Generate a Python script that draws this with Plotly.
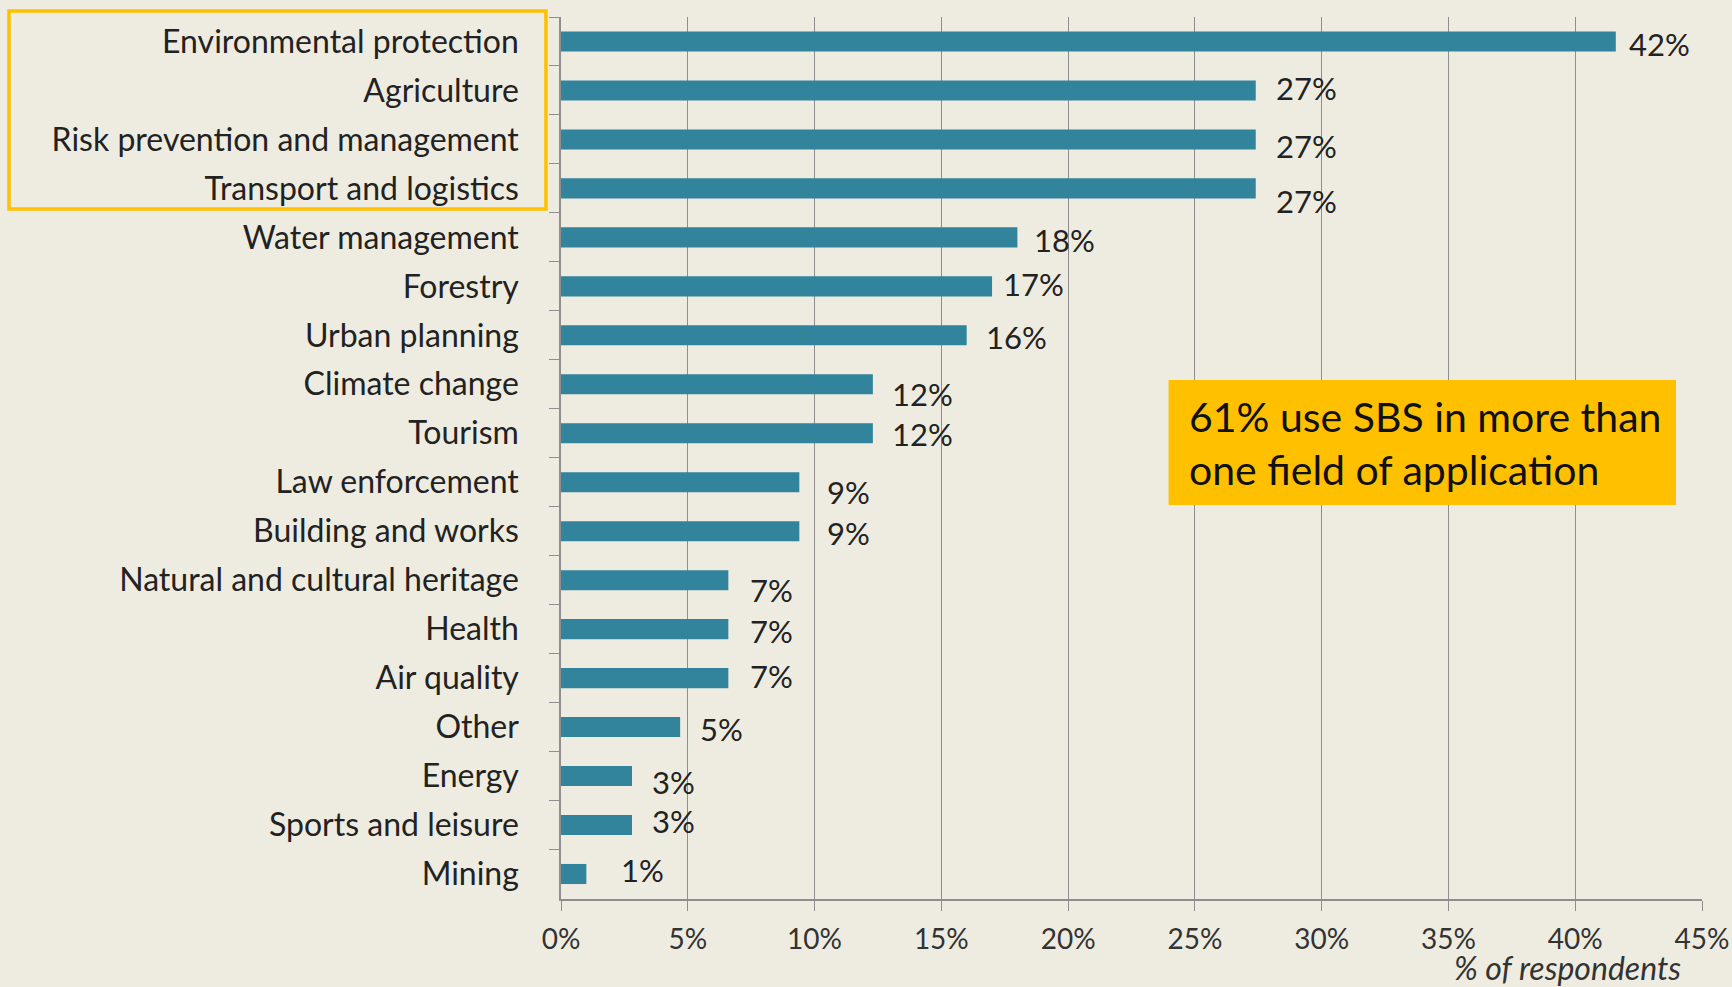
import plotly.graph_objects as go

categories = [
    "Environmental protection", "Agriculture", "Risk prevention and management",
    "Transport and logistics", "Water management", "Forestry", "Urban planning",
    "Climate change", "Tourism", "Law enforcement", "Building and works",
    "Natural and cultural heritage", "Health", "Air quality", "Other", "Energy",
    "Sports and leisure", "Mining",
]
values = [41.6, 27.4, 27.4, 27.4, 18.0, 17.0, 16.0, 12.3, 12.3, 9.4, 9.4,
          6.6, 6.6, 6.6, 4.7, 2.8, 2.8, 1.0]
value_labels = ["42%", "27%", "27%", "27%", "18%", "17%", "16%", "12%", "12%",
                "9%", "9%", "7%", "7%", "7%", "5%", "3%", "3%", "1%"]
x_ticks = [0, 5, 10, 15, 20, 25, 30, 35, 40, 45]
x_tick_labels = ["0%", "5%", "10%", "15%", "20%", "25%", "30%", "35%", "40%", "45%"]

# label offsets (style only): pixels right of bar end, pixels up
label_dx = [11, 18, 18, 18, 15, 9, 17, 17, 17, 26, 26, 20, 20, 20, 18, 18, 18, 33]
label_dy = [-3, 2, -7, -13, -3, 2, -2, -10, -1, -10, -2, -10, -2, 2, -2, -6, 4, 4]

BG = "#EEECE1"
BAR = "#31849B"
GRID = "#8E8E8E"
FONT = "Lato"

fig = go.Figure()
fig.add_trace(go.Bar(
    x=values, y=categories, orientation="h", width=0.41,
    marker=dict(color=BAR, line=dict(width=0)),
    hoverinfo="skip",
))

for cat, v, lab, dx, dy in zip(categories, values, value_labels, label_dx, label_dy):
    fig.add_annotation(x=v, y=cat, xref="x", yref="y", text=lab, showarrow=False,
                       xanchor="left", yanchor="middle", xshift=dx, yshift=dy,
                       font=dict(family=FONT, size=31, color="#222222"))

# highlight box around top four labels
fig.add_shape(type="rect", xref="paper", yref="paper",
              x0=-0.4838, x1=-0.0132, y0=0.7823, y1=1.0068,
              line=dict(color="#FFC000", width=3.5), fillcolor="rgba(0,0,0,0)")

# orange callout
fig.add_shape(type="rect", xref="paper", yref="paper",
              x0=0.5325, x1=0.9772, y0=0.4467, y1=0.5884,
              line=dict(width=0), fillcolor="#FFC000")
fig.add_annotation(xref="paper", yref="paper", x=0.5486, y=0.517,
                   text="61% use SBS in more than<br>one field of application",
                   showarrow=False, xanchor="left", yanchor="middle", align="left",
                   font=dict(family=FONT, size=41, color="#111111"))

fig.add_annotation(xref="paper", yref="paper", x=0.9834, y=-0.0775,
                   text="<i>% of respondents</i>", showarrow=False,
                   xanchor="right", yanchor="middle",
                   font=dict(family=FONT, size=32, color="#333333"))

fig.update_layout(
    width=1732, height=987,
    margin=dict(l=561, r=30, t=17, b=88, autoexpand=False),
    paper_bgcolor=BG, plot_bgcolor=BG,
    showlegend=False,
    xaxis=dict(range=[0, 45], tickvals=x_ticks, ticktext=x_tick_labels,
               automargin=False,
               showgrid=True, gridcolor=GRID, gridwidth=1,
               showline=True, linecolor=GRID, linewidth=1.5,
               ticks="outside", ticklen=10, tickcolor=GRID,
               ticklabelstandoff=5, zeroline=False,
               tickfont=dict(family=FONT, size=28, color="#333333"),
               fixedrange=True),
    yaxis=dict(categoryorder="array", categoryarray=categories,
               autorange="reversed", automargin=False,
               showline=True, linecolor=GRID, linewidth=1.5,
               ticks="outside", ticklen=10, tickcolor=GRID, tickson="boundaries",
               ticklabelstandoff=34, showgrid=False,
               tickfont=dict(family=FONT, size=32, color="#222222"),
               fixedrange=True),
)

fig.write_html("out.html", config={"displayModeBar": False},
               post_script="document.body.style.margin='0';document.body.style.background='" + BG + "';")
